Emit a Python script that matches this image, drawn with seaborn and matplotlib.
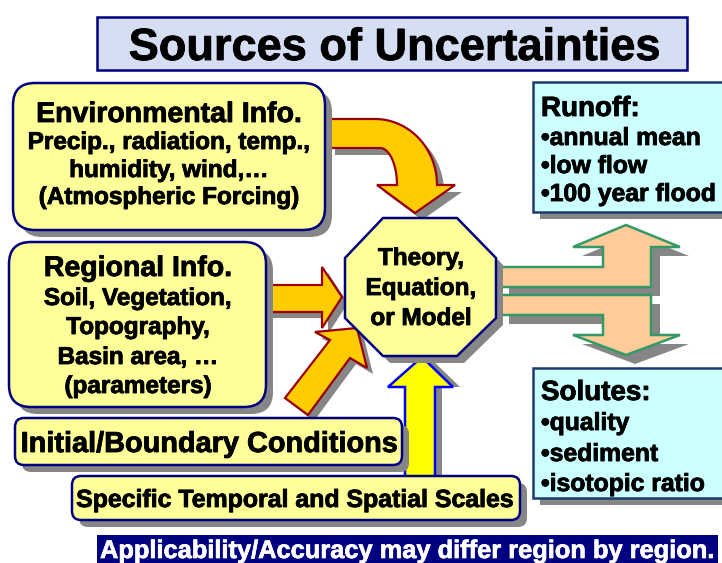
import matplotlib
matplotlib.use("Agg")
import matplotlib.pyplot as plt
import matplotlib.patheffects as pe
from matplotlib.patches import FancyBboxPatch, Polygon, Rectangle
import numpy as np
import seaborn as sns

# ---- content ----
title_text = "Sources of Uncertainties"
env_lines = ["Environmental Info.", "Precip., radiation, temp.,",
             "humidity, wind,\u2026", "(Atmospheric Forcing)"]
reg_lines = ["Regional Info.", "Soil, Vegetation,", "Topography,",
             "Basin area, \u2026", "(parameters)"]
model_lines = ["Theory,", "Equation,", "or Model"]
runoff_lines = ["Runoff:", "\u2022annual mean", "\u2022low flow", "\u2022100 year flood"]
solute_lines = ["Solutes:", "\u2022quality", "\u2022sediment", "\u2022isotopic ratio"]
initial_text = "Initial/Boundary Conditions"
scales_text = "Specific Temporal and Spatial Scales"
banner_text = "Applicability/Accuracy may differ region by region."

# ---- styles ----
YELLOW = "#ffff99"
NAVY = "#000080"
SHADOW = "#868686"
ORANGE = "#ffcc00"
DKRED = "#990000"
PEACH = "#ffcc99"
GREEN = "#339966"
CYAN = "#ccffff"
LAVENDER = "#d6def4"

sns.set_theme(style="white")
plt.rcParams['font.family'] = ['Liberation Sans', 'DejaVu Sans']

fig = plt.figure(figsize=(7.22, 5.63), dpi=100)
ax = fig.add_axes([0, 0, 1, 1])
ax.set_xlim(0, 722)
ax.set_ylim(563, 0)
ax.axis('off')
fig.patch.set_facecolor("white")

HEAVY = [pe.withStroke(linewidth=0.6, foreground="black")]
HEAVY_W = [pe.withStroke(linewidth=0.5, foreground="white")]


def rbox(x0, y0, x1, y1, r, fc, ec, lw=1.8, shadow=(7, 7), z=3):
    if shadow:
        sx, sy = shadow
        ax.add_patch(FancyBboxPatch((x0 + sx, y0 + sy), x1 - x0, y1 - y0,
                                    boxstyle=f"round,pad=0,rounding_size={r}",
                                    fc=SHADOW, ec="none", zorder=z - 0.5))
    ax.add_patch(FancyBboxPatch((x0, y0), x1 - x0, y1 - y0,
                                boxstyle=f"round,pad=0,rounding_size={r}",
                                fc=fc, ec=ec, lw=lw, zorder=z))


def poly(pts, fc, ec, lw=1.6, shadow=(6, 6), z=2):
    pts = np.asarray(pts, float)
    if shadow:
        ax.add_patch(Polygon(pts + np.array(shadow), closed=True, fc=SHADOW,
                             ec="none", zorder=z - 0.5))
    ax.add_patch(Polygon(pts, closed=True, fc=fc, ec=ec, lw=lw, zorder=z,
                         joinstyle="miter"))


def txt(x, y, s, size, ha="center", color="black", z=10):
    ax.text(x, y, s, ha=ha, va="baseline", fontsize=size, fontweight="bold",
            color=color, zorder=z,
            path_effects=HEAVY if color == "black" else HEAVY_W)


def lines(x, baselines, texts, sizes, ha="center"):
    for yb, t, s in zip(baselines, texts, sizes):
        txt(x, yb, t, s, ha=ha)


# ---- title ----
ax.add_patch(Rectangle((97, 17), 590, 53, fc=LAVENDER, ec=NAVY, lw=1.8, zorder=3))
txt(394, 60, title_text, 32.5)

# ---- curved arrow from Environmental box ----
t = np.linspace(-np.pi / 2, 0, 40)
outer = np.column_stack([375 + 62 * np.cos(t), 185 + 66 * np.sin(t)])
ti = np.linspace(0, -np.pi / 2, 40)
inner = np.column_stack([380 + 17 * np.cos(ti), 185 + 37 * np.sin(ti)])
curve = np.vstack([[[328, 119]], outer, [[455, 185], [415, 213], [377, 185]],
                   inner, [[328, 148]]])
poly(curve, ORANGE, DKRED, shadow=(7, 7), z=2)

# ---- arrow from Regional box ----
poly([(262, 285), (322, 285), (322, 267), (342, 297), (322, 328),
      (322, 312), (262, 312)], ORANGE, DKRED, z=2)

# ---- diagonal arrow ----
poly([(285, 398), (330, 340), (315, 332), (357, 328), (367, 368),
      (350, 358), (308, 415)], ORANGE, DKRED, z=2)

# ---- yellow vertical arrow ----
poly([(405, 478), (405, 387), (388, 387), (422, 357), (453, 387),
      (435, 387), (435, 478)], "#ffff00", "#0000ff", lw=1.8, shadow=(7, 0), z=2)

# ---- octagon ----
octo = [(383, 218), (457, 218), (496, 258), (496, 318), (457, 356),
        (383, 356), (345, 318), (345, 258)]
poly(octo, YELLOW, NAVY, lw=1.8, shadow=(7, 7), z=4)
lines(421, [265, 295, 325], model_lines, [17.5] * 3)

# ---- peach split arrows ----
up = [(500, 267), (603, 267), (603, 247), (573, 247), (626, 225), (680, 247),
      (651, 247), (651, 287), (500, 287)]
down = [(500, 295), (651, 295), (651, 335), (680, 335), (626, 355), (573, 335),
        (603, 335), (603, 315), (500, 315)]
poly(up, PEACH, GREEN, lw=1.8, shadow=(9, 9), z=2)
poly(down, PEACH, GREEN, lw=1.8, shadow=(9, 9), z=2.2)

# ---- yellow boxes ----
rbox(13, 83, 325, 230, 22, YELLOW, NAVY)
lines(169, [122, 149, 177, 204], env_lines, [20.5, 17.5, 17.5, 17.5])

rbox(9, 242, 266, 407, 22, YELLOW, NAVY)
lines(138, [276, 305, 334, 364, 393], reg_lines, [20.5, 17.5, 17.5, 17.5, 17.5])

rbox(15, 418, 402, 465, 9, YELLOW, NAVY, z=5)
txt(209, 452, initial_text, 20.8)

rbox(72, 476, 520, 520, 9, YELLOW, NAVY, z=5)
txt(295, 507, scales_text, 17.9)

# ---- cyan output boxes ----
for (y0, y1) in [(82, 212), (368, 498)]:
    ax.add_patch(Rectangle((540, y0 + 7), 200, y1 - y0, fc=SHADOW, ec="none", zorder=2.5))
    ax.add_patch(Rectangle((533, y0), 200, y1 - y0, fc=CYAN, ec="#1f3a6e", lw=1.8, zorder=3))
lines(541, [116, 145, 173, 201], runoff_lines, [20, 17.8, 17.8, 17.8], ha="left")
lines(541, [400, 430, 461, 491], solute_lines, [20, 17.8, 17.8, 17.8], ha="left")

# ---- bottom banner ----
ax.add_patch(Rectangle((97, 535), 621, 30, fc=NAVY, ec="none", zorder=3))
txt(100, 558, banner_text, 18.3, ha="left", color="white")

fig.savefig("out.png", dpi=100, facecolor="white")
